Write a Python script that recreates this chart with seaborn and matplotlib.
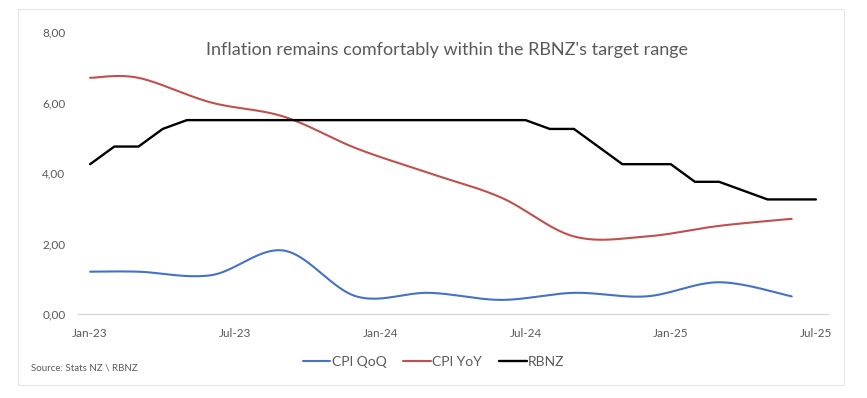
import numpy as np
import pandas as pd
import matplotlib
matplotlib.use("Agg")
import matplotlib.pyplot as plt
from matplotlib.patches import Rectangle
import seaborn as sns

# months counted from Jan-23
rbnz_month = list(range(31))
rbnz_rate = [4.25, 4.75, 4.75, 5.25,
             5.50, 5.50, 5.50, 5.50, 5.50, 5.50, 5.50, 5.50,
             5.50, 5.50, 5.50, 5.50, 5.50, 5.50, 5.50,
             5.25, 5.25, 4.75, 4.25, 4.25, 4.25, 3.75, 3.75,
             3.50, 3.25, 3.25, 3.25]

cpi_month = [0, 2, 5, 8, 11, 14, 17, 20, 23, 26, 29]
cpi_qoq = [1.2, 1.2, 1.1, 1.8, 0.5, 0.6, 0.4, 0.6, 0.5, 0.9, 0.5]
cpi_yoy = [6.7, 6.7, 6.0, 5.6, 4.7, 4.0, 3.3, 2.2, 2.2, 2.5, 2.7]

tick_month = [0, 6, 12, 18, 24, 30]
tick_labels = ["Jan-23", "Jul-23", "Jan-24", "Jul-24", "Jan-25", "Jul-25"]

grey = "#595959"
light = "#D9D9D9"


def smooth(xs, ys, n=40):
    # Excel style smoothed line: cubic bezier through the points
    p = np.column_stack([xs, ys]).astype(float)
    p = np.vstack([p[0], p, p[-1]])
    out = []
    t = np.linspace(0, 1, n)[:, None]
    for i in range(1, len(p) - 2):
        a, b = p[i], p[i + 1]
        c1 = a + (b - p[i - 1]) / 6
        c2 = b - (p[i + 2] - a) / 6
        seg = (1 - t) ** 3 * a + 3 * (1 - t) ** 2 * t * c1 + 3 * (1 - t) * t ** 2 * c2 + t ** 3 * b
        out.append(seg if i == 1 else seg[1:])
    out = np.vstack(out)
    return out[:, 0], out[:, 1]


sns.set_style("white")
plt.rcParams["font.family"] = ["Lato", "DejaVu Sans"]

fig = plt.figure(figsize=(8.67, 3.98), dpi=100)
ax = fig.add_axes([0.090, 0.2111, 0.865, 0.7085])

qx, qy = smooth(cpi_month, cpi_qoq)
yx, yy = smooth(cpi_month, cpi_yoy)
qoq = pd.DataFrame({"month": qx, "value": qy})
yoy = pd.DataFrame({"month": yx, "value": yy})
rbnz = pd.DataFrame({"month": rbnz_month, "value": rbnz_rate})

sns.lineplot(data=qoq, x="month", y="value", ax=ax, color="#4472C4", lw=1.5,
             sort=False, estimator=None, label="CPI QoQ")
sns.lineplot(data=yoy, x="month", y="value", ax=ax, color="#C0504D", lw=1.5,
             sort=False, estimator=None, label="CPI YoY")
sns.lineplot(data=rbnz, x="month", y="value", ax=ax, color="black", lw=1.7,
             sort=False, estimator=None, label="RBNZ")

ax.set_xlim(-0.5, 30.5)
ax.set_ylim(0, 8)
ax.set_xlabel("")
ax.set_ylabel("")

ax.set_yticks([0, 2, 4, 6, 8])
ax.set_yticklabels(["0,00", "2,00", "4,00", "6,00", "8,00"])
ax.tick_params(axis="y", length=0, pad=9, labelsize=8.5, labelcolor=grey)

ax.set_xticks([m - 0.5 for m in tick_month])
ax.set_xticklabels([])
ax.set_xticks(tick_month, minor=True)
ax.set_xticklabels(tick_labels, minor=True)
ax.tick_params(axis="x", which="major", length=3.5, width=0.8, color=light, direction="out")
ax.tick_params(axis="x", which="minor", length=0, pad=10, labelsize=8.5, labelcolor=grey)

for s in ["left", "top", "right"]:
    ax.spines[s].set_visible(False)
ax.spines["bottom"].set_color(light)
ax.spines["bottom"].set_linewidth(1)

ax.get_legend().remove()
handles, labels = ax.get_legend_handles_labels()
fig.legend(handles, labels, loc="center", bbox_to_anchor=(0.5, 0.0905), ncol=3,
           frameon=False, fontsize=10, handlelength=2.0, handletextpad=0.1,
           columnspacing=1.2, labelcolor=grey)

fig.text(0.516, 0.874, "Inflation remains comfortably within the RBNZ's target range",
         ha="center", va="center", fontsize=13, color=grey)
fig.text(31 / 867, 0.0754, "Source: Stats NZ \\ RBNZ", ha="left", va="center",
         fontsize=7, color=grey)

fig.patches.append(Rectangle((18 / 867, 13 / 398), 826 / 867, 376 / 398,
                             transform=fig.transFigure, fill=False,
                             edgecolor="#E6E6E6", lw=0.8))

fig.savefig("out.png", dpi=100)
